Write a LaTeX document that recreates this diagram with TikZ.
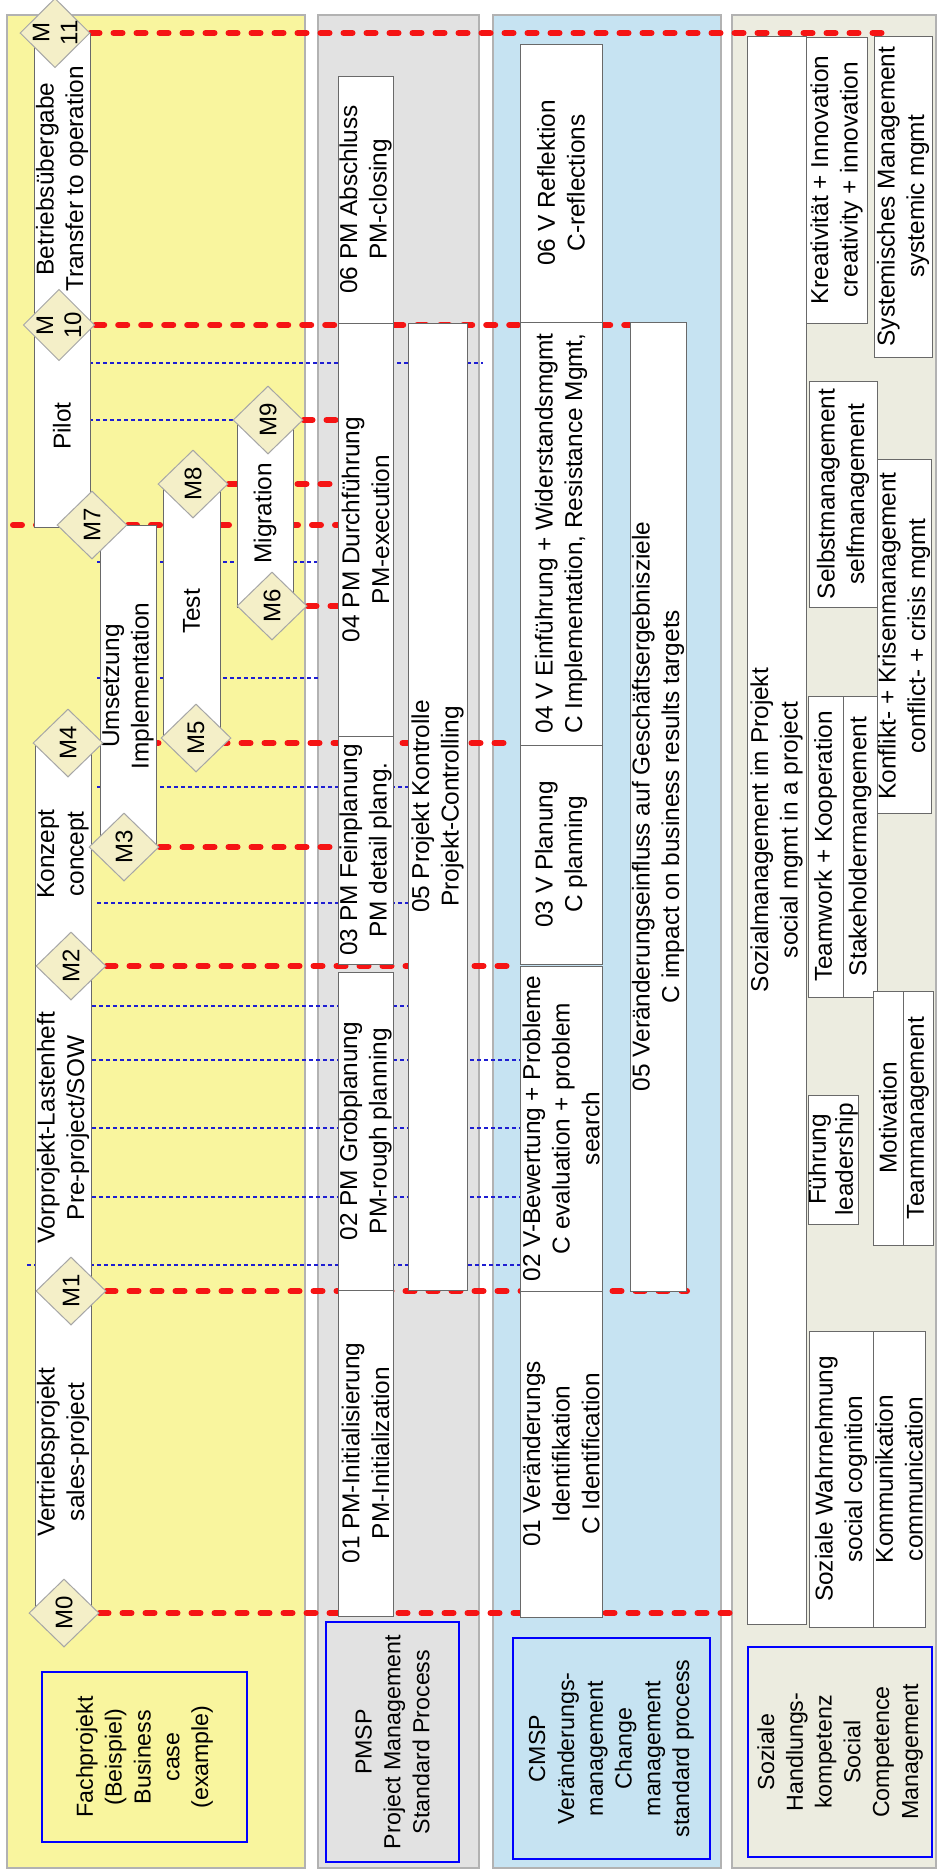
\documentclass[tikz,border=0pt]{standalone}
\usepackage{fontspec}
\setmainfont{Liberation Sans}
\usetikzlibrary{shapes.geometric, backgrounds}

\definecolor{yellowband}{RGB}{249,245,158}
\definecolor{grayband}{RGB}{226,226,226}
\definecolor{blueband}{RGB}{198,227,242}
\definecolor{beigeband}{RGB}{236,236,224}
\definecolor{msfill}{RGB}{244,239,200}
\definecolor{boxline}{RGB}{105,105,105}
\definecolor{msred}{RGB}{245,20,20}
\definecolor{tickblue}{RGB}{30,30,210}

\newcommand{\px}{0.5pt}

\begin{document}
\begin{tikzpicture}[
    x=0.5pt, y=-0.5pt,
    % Node styles
    band/.style={draw=gray!60, line width=0.6pt},
    stage/.style={rectangle, draw=boxline, fill=white, line width=0.5pt, rotate=90, align=center, inner sep=0pt, font=\fontsize{12.2}{14.8}\selectfont},
    lanetitle/.style={rectangle, draw=blue, line width=0.8pt, rotate=90, align=center, inner sep=0pt, font=\fontsize{11.6}{14.4}\selectfont},
    ms/.style={diamond, draw=gray!70, fill=msfill, line width=0.5pt, minimum width=34pt, minimum height=35pt, inner sep=0pt, rotate=90, align=center, font=\fontsize{12}{14}\selectfont},
    msline/.style={msred, line width=3pt, dash pattern=on 4.5pt off 7pt, line cap=round},
    gridline/.style={tickblue, line width=1pt, dash pattern=on 2pt off 1.5pt},
]
\useasboundingbox (0,0) rectangle (942,1874);

% Swim lanes
\begin{scope}[on background layer]
\fill[white] (0,0) rectangle (942,1874);
\draw[band, fill=yellowband] (7,15) rectangle (305,1868);
\draw[band, fill=grayband] (318,15) rectangle (479,1868);
\draw[band, fill=blueband] (493,15) rectangle (721,1868);
\draw[band, fill=beigeband] (732,15) rectangle (936,1868);
\end{scope}

% Fachprojekt phases
\node[stage, minimum width=292*\px, minimum height=56*\px] (betrieb) at (62,179) {Betriebsübergabe\\Transfer to operation};
\node[stage, minimum width=202*\px, minimum height=56*\px] (pilot) at (62,426) {Pilot};
\node[stage, minimum width=222*\px, minimum height=56*\px] (konzept) at (63,854) {Konzept\\concept};
\node[stage, minimum width=325*\px, minimum height=56*\px] (vorprojekt) at (63,1128) {Vorprojekt-Lastenheft\\Pre-project/SOW};
\node[stage, minimum width=323*\px, minimum height=56*\px] (vertrieb) at (63,1452) {Vertriebsprojekt\\sales-project};
\node[stage, minimum width=322*\px, minimum height=56*\px] (umsetzung) at (128,686) {Umsetzung\\Implementation};
\node[stage, minimum width=253*\px, minimum height=57*\px] (test) at (191.5,611.5) {Test};
\node[stage, minimum width=187*\px, minimum height=56*\px] (migration) at (265,513.5) {Migration};

% Milestones
\node[ms] (m11) at (55,33) {M\\11};
\node[ms] (m10) at (59,325) {M\\10};
\node[ms] (m9) at (268,420) {M9};
\node[ms] (m8) at (193,484) {M8};
\node[ms] (m7) at (92,525) {M7};
\node[ms] (m6) at (272,606) {M6};
\node[ms] (m5) at (196,738) {M5};
\node[ms] (m4) at (68,743) {M4};
\node[ms] (m3) at (124,847) {M3};
\node[ms] (m2) at (71,966) {M2};
\node[ms] (m1) at (71,1291) {M1};
\node[ms] (m0) at (64,1613) {M0};

% PMSP phases
\node[stage, minimum width=247*\px, minimum height=55*\px] (pm06) at (365.5,199.5) {06 PM Abschluss\\PM-closing};
\node[stage, minimum width=413*\px, minimum height=55*\px] (pm04) at (365.5,529.5) {04 PM Durchführung\\PM-execution};
\node[stage, minimum width=228*\px, minimum height=55*\px] (pm03) at (365.5,850) {03 PM Feinplanung\\PM detail plang.};
\node[stage, minimum width=318*\px, minimum height=55*\px] (pm02) at (365.5,1131) {02 PM Grobplanung\\PM-rough planning};
\node[stage, minimum width=326*\px, minimum height=55*\px] (pm01) at (365.5,1453) {01 PM-Initialisierung\\PM-Initialization};
\node[stage, minimum width=967*\px, minimum height=59*\px] (pm05) at (437.5,806.5) {05 Projekt Kontrolle\\Projekt-Controlling};

% CMSP phases
\node[stage, minimum width=278*\px, minimum height=82*\px] (cm06) at (561,183) {06 V Reflektion\\C-reflections};
\node[stage, minimum width=423*\px, minimum height=82*\px] (cm04) at (561,533.5) {04 V Einführung + Widerstandsmgmt\\C Implementation, Resistance Mgmt,};
\node[stage, minimum width=219*\px, minimum height=82*\px] (cm03) at (561,854.5) {03 V Planung\\C planning};
\node[stage, minimum width=325*\px, minimum height=82*\px] (cm02) at (561,1128.5) {02 V-Bewertung + Probleme\\C evaluation + problem\\search};
\node[stage, minimum width=326*\px, minimum height=82*\px] (cm01) at (561,1454) {01 Veränderungs\\Identifikation\\C Identification};
\node[stage, minimum width=969*\px, minimum height=56*\px] (cm05) at (658,806.5) {05 Veränderungseinfluss auf Geschäftsergebnisziele\\C impact on business results targets};

% Social competence blocks
\node[stage, minimum width=1588*\px, minimum height=59*\px] (social) at (776.5,830) {Sozialmanagement im Projekt\\social mgmt in a project};
\node[stage, minimum width=286*\px, minimum height=61*\px] (kreativ) at (836.5,180) {Kreativität + Innovation\\creativity + innovation};
\node[stage, minimum width=321*\px, minimum height=58*\px] (system) at (903,196.5) {Systemisches Management\\systemic mgmt};
\node[stage, minimum width=226*\px, minimum height=68*\px] (selbst) at (843,494) {Selbstmanagement\\selfmanagement};
\node[stage, minimum width=354*\px, minimum height=54*\px] (konflikt) at (904,636) {Konflikt- + Krisenmanagement\\conflict- + crisis mgmt};
\node[stage, minimum width=301*\px, minimum height=35*\px] (teamwork) at (825.5,846.5) {Teamwork + Kooperation};
\node[stage, minimum width=301*\px, minimum height=34*\px] (stake) at (860,846.5) {Stakeholdermangement};
\node[stage, minimum width=129*\px, minimum height=50*\px, font=\fontsize{12.2}{13.5}\selectfont] (fuehrung) at (833,1159.5) {Führung\\leadership};
\node[stage, minimum width=254*\px, minimum height=30*\px] (motiv) at (888,1118) {Motivation};
\node[stage, minimum width=254*\px, minimum height=30*\px] (teammgmt) at (918,1118) {Teammanagement};
\node[stage, minimum width=296*\px, minimum height=64*\px] (wahrn) at (841,1479) {Soziale Wahrnehmung\\social cognition};
\node[stage, minimum width=296*\px, minimum height=52*\px] (kommu) at (899,1479) {Kommunikation\\communication};

% Lane titles
\node[lanetitle, minimum width=170*\px, minimum height=205*\px] (fach) at (144.5,1757) {Fachprojekt\\(Beispiel)\\Business\\case\\(example)};
\node[lanetitle, minimum width=240*\px, minimum height=133*\px] (pmsp) at (392.5,1742) {PMSP\\Project Management\\Standard Process};
\node[lanetitle, minimum width=221*\px, minimum height=197*\px] (cmsp) at (611.5,1748.5) {CMSP\\Veränderungs-\\management\\Change\\management\\standard process};
\node[lanetitle, minimum width=210*\px, minimum height=184*\px] (sozial) at (840,1752) {Soziale\\Handlungs-\\kompetenz\\Social\\Competence\\Management};

% Milestone lines and checkpoints
\begin{scope}[on background layer]
\draw[gridline] (89,363) -- (483,363);
\draw[gridline] (89,420) -- (m9);
\draw[gridline] (97,562) -- (317,562);
\draw[gridline] (97,678) -- (318,678);
\draw[gridline] (97,787) -- (408,787);
\draw[gridline] (97,903) -- (408,903);
\draw[gridline] (92,1006) -- (408,1006);
\draw[gridline] (92,1060) -- (520,1060);
\draw[gridline] (92,1128) -- (520,1128);
\draw[gridline] (92,1197) -- (520,1197);
\draw[gridline] (27,1265) -- (520,1265);

\coordinate (e11) at (893,0);
\coordinate (e10) at (680,0);
\coordinate (epm) at (338,0);
\coordinate (s7) at (13,0);
\coordinate (e4) at (515,0);
\coordinate (e2) at (520,0);
\coordinate (e1) at (687,0);
\coordinate (e0) at (743,0);
\draw[msline] (m11) -- (m11 -| e11);
\draw[msline] (m10) -- (m10 -| e10);
\draw[msline] (m9) -- (m9 -| epm);
\draw[msline] (m8) -- (m8 -| epm);
\draw[msline] (m7 -| s7) -- (m7 -| epm);
\draw[msline] (m6) -- (m6 -| epm);
\draw[msline] (m4) -- (m4 -| e4);
\draw[msline] (m3) -- (m3 -| epm);
\draw[msline] (m2) -- (m2 -| e2);
\draw[msline] (m1) -- (m1 -| e1);
\draw[msline] (m0) -- (m0 -| e0);
\end{scope}

\end{tikzpicture}
\end{document}
